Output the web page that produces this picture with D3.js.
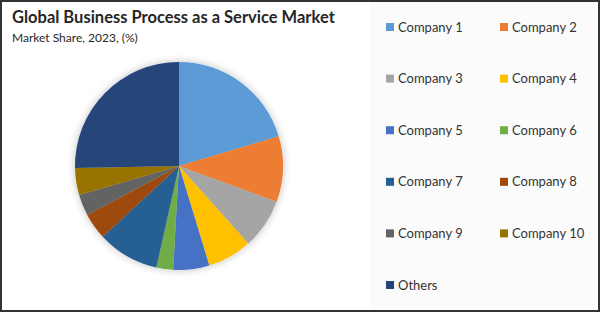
<!DOCTYPE html>
<html>
<head>
<meta charset="utf-8">
<script src="https://cdn.jsdelivr.net/npm/d3@7"></script>
<style>
  body { margin: 0; background: #fff; }
  text { font-family: Lato, "Open Sans", sans-serif; }
</style>
</head>
<body>
<div id="vis"></div>
<script>
// declare constants
const FRAME_WIDTH = 600;
const FRAME_HEIGHT = 312;
const PIE = {cx: 179, cy: 166, r: 104};

// data
const companies = ["Company 1", "Company 2", "Company 3", "Company 4", "Company 5",
  "Company 6", "Company 7", "Company 8", "Company 9", "Company 10", "Others"];
const shares = [20.4, 10.2, 7.8, 6.9, 5.6, 2.6, 9.6, 4.1, 3.3, 4.2, 25.3];
const colours = ["#5b9bd5", "#ed7d31", "#a5a5a5", "#ffc000", "#4472c4", "#70ad47",
  "#255e91", "#9e480e", "#636363", "#997300", "#264478"];

const data = companies.map((c, i) => ({name: c, value: shares[i]}));

const svg = d3.select("#vis")
  .append("svg")
    .attr("width", FRAME_WIDTH)
    .attr("height", FRAME_HEIGHT);

// soft shadow around the pie
const defs = svg.append("defs");
const f = defs.append("filter").attr("id", "shadow")
  .attr("x", "-20%").attr("y", "-20%").attr("width", "140%").attr("height", "140%");
f.append("feGaussianBlur").attr("in", "SourceAlpha").attr("stdDeviation", 4).attr("result", "b");
f.append("feComponentTransfer").attr("in", "b").attr("result", "s")
  .append("feFuncA").attr("type", "linear").attr("slope", 0.25);
const m = f.append("feMerge");
m.append("feMergeNode").attr("in", "s");
m.append("feMergeNode").attr("in", "SourceGraphic");

// background
svg.append("rect")
  .attr("x", 0).attr("y", 0)
  .attr("width", FRAME_WIDTH).attr("height", FRAME_HEIGHT)
  .attr("fill", "#fff");

// legend panel
svg.append("rect")
  .attr("x", 370).attr("y", 2)
  .attr("width", 227).attr("height", 307)
  .attr("fill", "#fbfbfb");

// outer frame
svg.append("rect")
  .attr("x", 1).attr("y", 1)
  .attr("width", FRAME_WIDTH - 2).attr("height", FRAME_HEIGHT - 2)
  .attr("fill", "none")
  .attr("stroke", "#333")
  .attr("stroke-width", 2);

// titles
svg.append("text")
  .attr("x", 12).attr("y", 23)
  .attr("font-size", 16.5)
  .attr("font-weight", "bold")
  .attr("fill", "#262626")
  .text("Global Business Process as a Service Market");

svg.append("text")
  .attr("x", 12).attr("y", 42)
  .attr("font-size", 12)
  .attr("fill", "#262626")
  .text("Market Share, 2023, (%)");

// pie
const pie = d3.pie().sort(null).value(d => d.value);
const arc = d3.arc().innerRadius(0).outerRadius(PIE.r);
const colour = d3.scaleOrdinal().domain(companies).range(colours);

svg.append("g")
  .attr("transform", `translate(${PIE.cx},${PIE.cy})`)
  .attr("filter", "url(#shadow)")
  .selectAll("path")
  .data(pie(data))
  .enter()
  .append("path")
    .attr("d", arc)
    .attr("fill", d => colour(d.data.name));

// legend
const col = d3.scalePoint().domain([0, 1]).range([386, 500]);
const row = d3.scaleLinear().domain([0, 5]).range([27, 285]);

const items = svg.append("g")
  .selectAll("g")
  .data(companies)
  .enter()
  .append("g")
    .attr("transform", (d, i) => `translate(${col(i % 2)},${row(Math.floor(i / 2))})`);

items.append("rect")
  .attr("x", 0).attr("y", -4)
  .attr("width", 8).attr("height", 8)
  .attr("fill", d => colour(d));

items.append("text")
  .attr("x", 12).attr("y", 0)
  .attr("dy", "0.35em")
  .attr("font-size", 13)
  .attr("fill", "#333")
  .text(d => d);
</script>
</body>
</html>
